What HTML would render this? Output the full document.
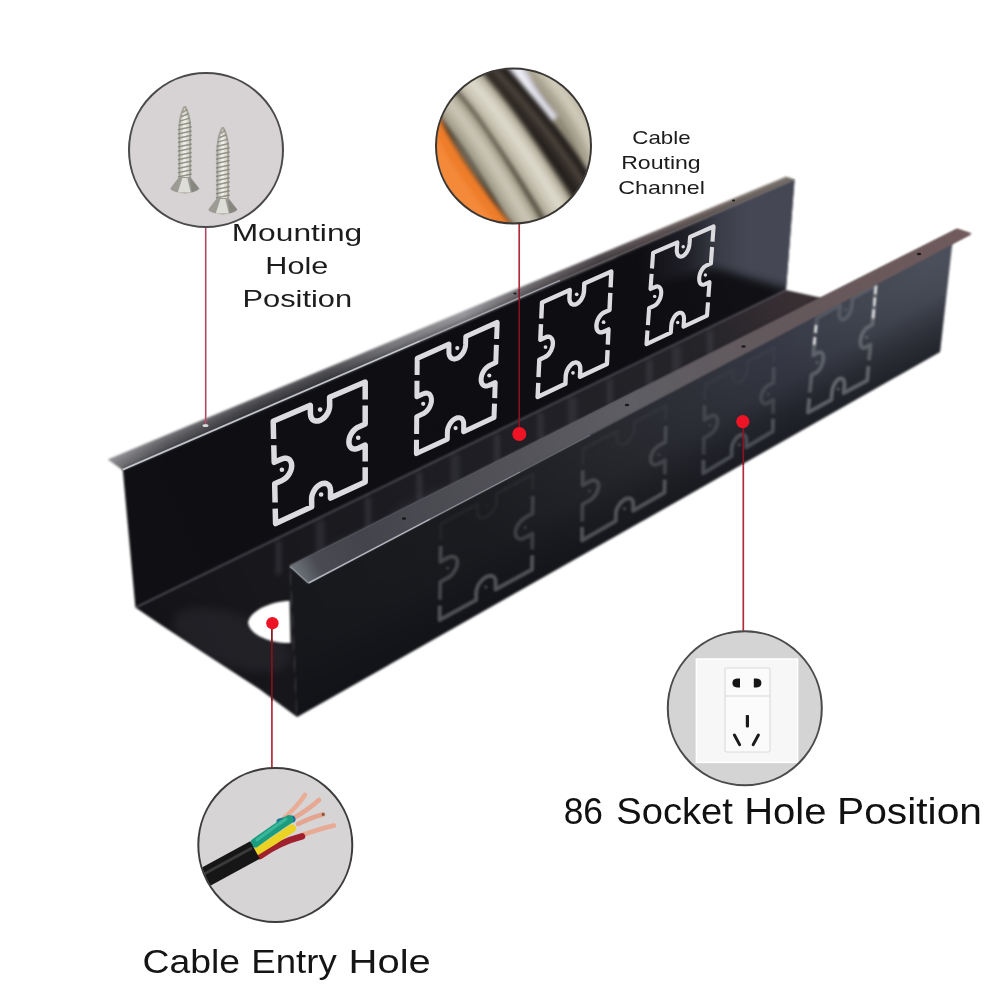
<!DOCTYPE html>
<html><head><meta charset="utf-8"><title>Cable tray</title>
<style>
html,body{margin:0;padding:0;background:#fff;}
body{width:1000px;height:1000px;overflow:hidden;font-family:"Liberation Sans",sans-serif;}
svg{display:block;}
</style></head><body>
<svg width="1000" height="1000" viewBox="0 0 1000 1000">
<defs>
<linearGradient id="gLF" gradientUnits="userSpaceOnUse" x1="108" y1="460" x2="790" y2="180">
 <stop offset="0" stop-color="#7c7c80"/><stop offset="0.08" stop-color="#58585d"/><stop offset="0.2" stop-color="#434348"/><stop offset="0.32" stop-color="#45454a"/>
 <stop offset="0.42" stop-color="#77777b"/><stop offset="0.52" stop-color="#96969a"/><stop offset="0.62" stop-color="#6a666a"/><stop offset="0.72" stop-color="#514b4f"/>
 <stop offset="0.78" stop-color="#62575a"/><stop offset="0.88" stop-color="#786d6a"/><stop offset="1" stop-color="#908880"/>
</linearGradient>
<linearGradient id="gLFx" gradientUnits="userSpaceOnUse" x1="440" y1="317.6" x2="445.6" y2="330.5">
 <stop offset="0" stop-color="#fff" stop-opacity="0.16"/><stop offset="0.45" stop-color="#fff" stop-opacity="0"/><stop offset="0.55" stop-color="#000" stop-opacity="0"/><stop offset="1" stop-color="#000" stop-opacity="0.3"/>
</linearGradient>
<linearGradient id="gLW" gradientUnits="userSpaceOnUse" x1="125" y1="540" x2="790" y2="235">
 <stop offset="0" stop-color="#101014"/><stop offset="0.75" stop-color="#0e0e12"/><stop offset="1" stop-color="#121217"/>
</linearGradient>
<linearGradient id="gSl" gradientUnits="userSpaceOnUse" x1="640" y1="0" x2="745" y2="0">
 <stop offset="0" stop-color="#454854" stop-opacity="0"/><stop offset="0.45" stop-color="#454854" stop-opacity="0.3"/><stop offset="0.75" stop-color="#454854" stop-opacity="0.8"/><stop offset="1" stop-color="#454854" stop-opacity="1"/>
</linearGradient>
<linearGradient id="gFL" gradientUnits="userSpaceOnUse" x1="140" y1="620" x2="800" y2="295">
 <stop offset="0" stop-color="#141418"/><stop offset="0.5" stop-color="#1e1e24"/><stop offset="0.85" stop-color="#242429"/><stop offset="1" stop-color="#3a3034"/>
</linearGradient>
<linearGradient id="gRW" gradientUnits="userSpaceOnUse" x1="295" y1="640" x2="945" y2="295">
 <stop offset="0" stop-color="#17181c"/><stop offset="0.3" stop-color="#1b1c20"/><stop offset="0.5" stop-color="#27282d"/><stop offset="0.76" stop-color="#363945"/><stop offset="0.9" stop-color="#444853"/><stop offset="1" stop-color="#4c505c"/>
</linearGradient>
<linearGradient id="gRWv" gradientUnits="userSpaceOnUse" x1="600" y1="415" x2="656" y2="514.5">
 <stop offset="0" stop-color="#101116" stop-opacity="0"/><stop offset="0.3" stop-color="#101116" stop-opacity="0.02"/><stop offset="0.53" stop-color="#101116" stop-opacity="0.11"/><stop offset="0.76" stop-color="#101116" stop-opacity="0.45"/><stop offset="1" stop-color="#101116" stop-opacity="0.7"/>
</linearGradient>
<linearGradient id="gRF" gradientUnits="userSpaceOnUse" x1="298" y1="575" x2="963" y2="232">
 <stop offset="0" stop-color="#6c7279"/><stop offset="0.03" stop-color="#4a4a52"/><stop offset="0.1" stop-color="#44444c"/><stop offset="0.3" stop-color="#515157"/><stop offset="0.5" stop-color="#5e5e64"/><stop offset="0.75" stop-color="#64585b"/><stop offset="1" stop-color="#705a5c"/>
</linearGradient>
<filter id="b2" color-interpolation-filters="sRGB"><feGaussianBlur stdDeviation="2"/></filter>
<filter id="b4" color-interpolation-filters="sRGB"><feGaussianBlur stdDeviation="4"/></filter>
<filter id="b05" color-interpolation-filters="sRGB"><feGaussianBlur stdDeviation="0.5"/></filter>
<filter id="b1" color-interpolation-filters="sRGB"><feGaussianBlur stdDeviation="0.9"/></filter>
<filter id="b08" color-interpolation-filters="sRGB"><feGaussianBlur stdDeviation="0.8"/></filter>
<clipPath id="cFloor"><polygon points="135.4,607.6 786.0,290.0 822.0,298.0 290.0,566.0 297.0,717.0 260.0,689.5 210.0,657.0 160.0,624.2"/></clipPath>
<clipPath id="cRW"><polygon points="290.0,568.0 955.0,232.0 952.0,246.5 940.0,352.0 297.0,717.0"/></clipPath>
<clipPath id="cLW"><polygon points="122.8,470.2 794.5,180.0 786.0,290.0 135.4,607.6"/></clipPath>
<clipPath id="c1"><circle cx="206" cy="150" r="76.5"/></clipPath>
<clipPath id="c2"><circle cx="513.5" cy="146" r="77"/></clipPath>
<clipPath id="c3"><circle cx="275.3" cy="845" r="76.5"/></clipPath>
<clipPath id="c4"><circle cx="744.8" cy="708.3" r="76.5"/></clipPath>
<linearGradient id="gRQ" gradientUnits="userSpaceOnUse" x1="0" y1="0" x2="0" y2="1">
 <stop offset="0" stop-color="#fff" stop-opacity="0.2"/><stop offset="1" stop-color="#fff" stop-opacity="1"/>
</linearGradient>
</defs>
<rect width="1000" height="1000" fill="#ffffff"/>
<g filter="url(#b1)">
<polygon points="107.8,459.4 786.0,176.5 794.5,179.5 122.8,470.2" fill="url(#gLF)"/>
<polygon points="107.8,459.4 786.0,176.5 794.5,179.5 122.8,470.2" fill="url(#gLFx)"/>
<polygon points="122.8,470.2 794.5,180.0 786.0,290.0 135.4,607.6" fill="url(#gLW)"/>
<g clip-path="url(#cLW)"><polygon points="636,240 800,170 800,292 716,268 640,286" fill="url(#gSl)" filter="url(#b4)"/></g>
<polygon points="135.4,607.6 786.0,290.0 822.0,298.0 290.0,566.0 297.0,717.0 260.0,689.5 210.0,657.0 160.0,624.2" fill="url(#gFL)"/>
<g clip-path="url(#cFloor)">
<g filter="url(#b4)" opacity="0.5">
<ellipse cx="350" cy="545" rx="40" ry="8" transform="rotate(-26 350 545)" fill="#34343a"/>
<ellipse cx="420" cy="505" rx="36" ry="8" transform="rotate(-26 420 505)" fill="#34343a"/>
<ellipse cx="500" cy="470" rx="34" ry="8" transform="rotate(-26 500 470)" fill="#34343a"/>
<ellipse cx="560" cy="440" rx="30" ry="8" transform="rotate(-26 560 440)" fill="#34343a"/>
<ellipse cx="640" cy="400" rx="28" ry="8" transform="rotate(-26 640 400)" fill="#34343a"/>
<ellipse cx="700" cy="372" rx="24" ry="8" transform="rotate(-26 700 372)" fill="#34343a"/>
<ellipse cx="760" cy="342" rx="22" ry="8" transform="rotate(-26 760 342)" fill="#34343a"/>
<ellipse cx="232" cy="640" rx="62" ry="26" transform="rotate(20 232 640)" fill="#2c2c32"/>
</g>
<g filter="url(#b2)" opacity="0.75">
<rect x="276.1" y="540.7" width="5" height="33.8" fill="#55555c" opacity="0.55"/>
<rect x="315.9" y="520.3" width="9" height="33.8" fill="#55555c" opacity="0.4"/>
<rect x="365.7" y="497.0" width="5" height="33.8" fill="#55555c" opacity="0.55"/>
<rect x="416.9" y="472.0" width="5" height="31.4" fill="#55555c" opacity="0.55"/>
<rect x="450.7" y="454.5" width="9" height="31.4" fill="#55555c" opacity="0.4"/>
<rect x="494.5" y="434.1" width="5" height="31.4" fill="#55555c" opacity="0.55"/>
<rect x="538.1" y="412.9" width="5" height="31.2" fill="#55555c" opacity="0.55"/>
<rect x="567.8" y="397.4" width="9" height="31.2" fill="#55555c" opacity="0.4"/>
<rect x="607.4" y="379.0" width="5" height="31.2" fill="#55555c" opacity="0.55"/>
<rect x="647.0" y="359.7" width="5" height="30.1" fill="#55555c" opacity="0.55"/>
<rect x="672.2" y="346.4" width="9" height="30.1" fill="#55555c" opacity="0.4"/>
<rect x="707.5" y="330.2" width="5" height="30.1" fill="#55555c" opacity="0.55"/>
</g>
<polygon points="560,432 822,298 822,310 600,424" fill="#2a2628" opacity="0.7" filter="url(#b2)"/>
</g>
<line x1="135.4" y1="607.6" x2="786" y2="290" stroke="#6b6b74" stroke-width="1.2" opacity="0.8"/>
<path d="M248,622.5 C250,611 270,601.5 289.5,600.8 L290.6,643 C270,643.5 249.5,635 248,622.5 Z" fill="#ffffff"/>
<polygon points="290.0,568.0 955.0,232.0 952.0,246.5 940.0,352.0 297.0,717.0" fill="url(#gRW)"/>
<polygon points="290.0,568.0 955.0,232.0 952.0,246.5 940.0,352.0 297.0,717.0" fill="url(#gRWv)"/>
<polygon points="290.0,566.0 957.0,229.0 971.5,233.8 308.5,583.0" fill="url(#gRF)"/>
</g>
<g filter="url(#b05)">
<line x1="122.8" y1="469.6" x2="420" y2="341" stroke="#c9ccd4" stroke-width="1.7" opacity="0.95"/>
<line x1="420" y1="341" x2="560" y2="280.4" stroke="#b4b6c0" stroke-width="1.5" opacity="0.8"/>
<line x1="560" y1="280.4" x2="794.5" y2="179.2" stroke="#6f6467" stroke-width="1.2" opacity="0.5"/>
</g>
<g filter="url(#b05)"><g fill="none" stroke="#dcdce0" stroke-width="5.5" stroke-linejoin="round" stroke-linecap="butt" opacity="1.0" >
<path d="M273.6,439.0 L273.2,421.2 L310.3,405.4 L310.4,413.7 L310.4,413.7 L310.7,416.0 L311.4,418.0 L312.6,419.6 L314.2,420.6 L316.0,421.1 L318.1,421.0 L320.2,420.4 L322.3,419.2 L324.4,417.5 L326.2,415.4 L327.7,413.1 L328.8,410.5 L329.5,407.9 L329.7,405.4 L329.6,397.2 L365.2,382.0 L365.2,399.4" opacity="1"/>
<path d="M365.2,405.5 L365.2,424.1 L358.1,427.2 L358.1,427.2 L356.1,428.4 L354.1,430.1 L352.4,432.1 L350.9,434.4 L349.8,436.9 L349.1,439.5 L348.9,441.9 L349.1,444.2 L349.8,446.1 L350.9,447.6 L352.4,448.6 L354.2,449.0 L356.1,448.9 L358.2,448.3 L365.2,445.1 L365.2,461.4" opacity="1"/>
<path d="M365.2,467.3 L365.2,482.0 L330.5,498.1 L330.5,490.2 L330.5,490.2 L330.2,488.0 L329.5,486.1 L328.3,484.7 L326.8,483.7 L325.0,483.3 L323.0,483.4 L320.9,484.1 L318.8,485.3 L316.8,487.0 L315.1,489.1 L313.6,491.5 L312.5,494.0 L311.8,496.5 L311.6,498.9 L311.7,506.8 L275.6,523.6 L275.2,508.6" opacity="1"/>
<path d="M275.1,502.5 L274.7,483.8 L282.1,480.4 L282.1,480.4 L284.3,479.2 L286.4,477.5 L288.2,475.4 L289.7,473.0 L290.8,470.5 L291.5,467.9 L291.7,465.4 L291.4,463.1 L290.6,461.2 L289.4,459.6 L287.8,458.6 L286.0,458.2 L283.9,458.3 L281.7,459.0 L274.2,462.3 L273.8,445.2" opacity="1"/>
<circle cx="320.1" cy="409.6" r="2.31" fill="#dcdce0" stroke="none" opacity="1"/>
<circle cx="358.2" cy="437.8" r="2.31" fill="#dcdce0" stroke="none" opacity="1"/>
<circle cx="321.1" cy="494.5" r="2.31" fill="#dcdce0" stroke="none" opacity="1"/>
<circle cx="281.9" cy="469.7" r="2.31" fill="#dcdce0" stroke="none" opacity="1"/>
</g></g>
<g filter="url(#b05)"><g fill="none" stroke="#dcdce0" stroke-width="5.0" stroke-linejoin="round" stroke-linecap="butt" opacity="1.0" >
<path d="M417.1,375.0 L417.2,358.4 L449.0,344.1 L448.9,351.9 L448.9,351.9 L449.0,354.1 L449.6,356.0 L450.6,357.5 L451.9,358.5 L453.4,359.0 L455.2,358.9 L457.1,358.4 L458.9,357.3 L460.7,355.7 L462.3,353.8 L463.7,351.6 L464.7,349.2 L465.4,346.7 L465.6,344.4 L465.8,336.5 L497.2,322.4 L496.6,339.0" opacity="1"/>
<path d="M496.4,344.8 L495.8,362.6 L489.6,365.5 L489.6,365.5 L487.8,366.6 L486.0,368.1 L484.4,370.0 L483.1,372.2 L482.0,374.5 L481.4,376.9 L481.1,379.2 L481.2,381.4 L481.8,383.2 L482.7,384.6 L483.9,385.6 L485.5,386.1 L487.2,386.0 L489.0,385.4 L495.2,382.6 L494.7,398.1" opacity="1"/>
<path d="M494.5,403.7 L494.0,417.6 L463.6,431.7 L463.7,424.3 L463.7,424.3 L463.6,422.2 L463.0,420.5 L462.1,419.1 L460.8,418.1 L459.3,417.7 L457.6,417.7 L455.8,418.3 L454.0,419.4 L452.2,420.9 L450.6,422.8 L449.3,425.0 L448.3,427.3 L447.6,429.6 L447.4,431.9 L447.3,439.3 L416.4,453.6 L416.5,439.7" opacity="1"/>
<path d="M416.6,434.1 L416.7,416.7 L423.1,413.8 L423.1,413.8 L424.9,412.7 L426.7,411.1 L428.3,409.2 L429.6,407.1 L430.6,404.7 L431.3,402.3 L431.5,400.0 L431.3,397.9 L430.7,396.0 L429.8,394.6 L428.5,393.6 L426.9,393.1 L425.1,393.2 L423.3,393.8 L416.9,396.7 L417.0,380.8" opacity="1"/>
<circle cx="457.3" cy="348.1" r="2.1" fill="#dcdce0" stroke="none" opacity="1"/>
<circle cx="489.3" cy="375.5" r="2.1" fill="#dcdce0" stroke="none" opacity="1"/>
<circle cx="455.6" cy="428.1" r="2.1" fill="#dcdce0" stroke="none" opacity="1"/>
<circle cx="423.2" cy="403.8" r="2.1" fill="#dcdce0" stroke="none" opacity="1"/>
</g></g>
<g filter="url(#b05)"><g fill="none" stroke="#dcdce0" stroke-width="4.4" stroke-linejoin="round" stroke-linecap="butt" opacity="1.0" >
<path d="M541.3,318.5 L542.0,302.4 L569.8,290.1 L569.4,297.6 L569.4,297.6 L569.5,299.7 L569.9,301.5 L570.7,303.0 L571.8,304.0 L573.1,304.6 L574.6,304.6 L576.3,304.1 L577.9,303.2 L579.5,301.7 L580.9,300.0 L582.1,297.9 L583.1,295.6 L583.7,293.3 L584.0,291.1 L584.3,283.6 L611.3,271.6 L610.6,287.3" opacity="1"/>
<path d="M610.3,292.9 L609.5,310.0 L604.0,312.5 L604.0,312.5 L602.5,313.4 L600.9,314.8 L599.5,316.6 L598.3,318.7 L597.3,320.9 L596.7,323.2 L596.4,325.5 L596.5,327.6 L596.9,329.4 L597.7,330.8 L598.8,331.8 L600.1,332.4 L601.5,332.4 L603.1,331.9 L608.5,329.4 L607.8,344.6" opacity="1"/>
<path d="M607.6,350.2 L606.9,364.0 L579.9,376.8 L580.3,369.4 L580.3,369.4 L580.2,367.3 L579.8,365.5 L579.0,364.0 L577.9,363.0 L576.6,362.5 L575.1,362.5 L573.5,363.0 L571.8,364.0 L570.3,365.5 L568.8,367.3 L567.6,369.4 L566.6,371.7 L566.0,374.0 L565.7,376.3 L565.4,383.8 L537.6,397.0 L538.3,382.8" opacity="1"/>
<path d="M538.5,377.2 L539.3,359.7 L545.0,357.0 L545.0,357.0 L546.7,356.0 L548.3,354.6 L549.7,352.7 L551.0,350.6 L551.9,348.3 L552.6,346.0 L552.9,343.7 L552.8,341.6 L552.3,339.8 L551.5,338.3 L550.4,337.3 L549.1,336.7 L547.6,336.7 L545.9,337.2 L540.3,339.8 L541.0,324.2" opacity="1"/>
<circle cx="576.7" cy="294.3" r="1.848" fill="#dcdce0" stroke="none" opacity="1"/>
<circle cx="603.6" cy="322.2" r="1.848" fill="#dcdce0" stroke="none" opacity="1"/>
<circle cx="573.0" cy="372.8" r="1.848" fill="#dcdce0" stroke="none" opacity="1"/>
<circle cx="545.5" cy="347.1" r="1.848" fill="#dcdce0" stroke="none" opacity="1"/>
</g></g>
<g filter="url(#b05)"><g fill="none" stroke="#dcdce0" stroke-width="4.1" stroke-linejoin="round" stroke-linecap="butt" opacity="1.0" >
<path d="M652.0,268.5 L653.1,252.9 L677.4,242.3 L676.8,249.6 L676.8,249.6 L676.8,251.6 L677.2,253.4 L677.8,254.9 L678.7,255.9 L679.8,256.5 L681.1,256.6 L682.5,256.3 L683.9,255.4 L685.3,254.1 L686.6,252.4 L687.7,250.5 L688.6,248.4 L689.2,246.2 L689.5,244.0 L690.1,236.8 L713.6,226.5 L712.5,241.7" opacity="1"/>
<path d="M712.1,247.0 L710.9,263.5 L706.1,265.7 L706.1,265.7 L704.7,266.5 L703.4,267.8 L702.1,269.5 L701.0,271.4 L700.1,273.5 L699.5,275.7 L699.2,277.9 L699.2,279.9 L699.5,281.7 L700.1,283.1 L701.0,284.2 L702.1,284.7 L703.4,284.8 L704.7,284.4 L709.5,282.2 L708.4,296.9" opacity="1"/>
<path d="M708.0,302.3 L707.0,315.6 L683.5,326.7 L684.0,319.5 L684.0,319.5 L684.0,317.5 L683.7,315.8 L683.0,314.3 L682.2,313.3 L681.0,312.7 L679.7,312.7 L678.3,313.1 L676.9,314.0 L675.5,315.3 L674.2,317.0 L673.1,319.0 L672.2,321.1 L671.6,323.3 L671.3,325.5 L670.8,332.7 L646.5,344.2 L647.5,330.5" opacity="1"/>
<path d="M647.9,325.1 L649.1,308.2 L654.1,305.9 L654.1,305.9 L655.5,305.0 L656.9,303.7 L658.2,302.0 L659.4,300.0 L660.3,297.9 L660.9,295.6 L661.2,293.4 L661.2,291.4 L660.9,289.6 L660.2,288.1 L659.3,287.1 L658.2,286.5 L656.9,286.4 L655.4,286.8 L650.5,289.0 L651.6,273.9" opacity="1"/>
<circle cx="683.2" cy="246.8" r="1.7219999999999998" fill="#dcdce0" stroke="none" opacity="1"/>
<circle cx="705.4" cy="275.0" r="1.7219999999999998" fill="#dcdce0" stroke="none" opacity="1"/>
<circle cx="677.7" cy="322.5" r="1.7219999999999998" fill="#dcdce0" stroke="none" opacity="1"/>
<circle cx="654.7" cy="296.4" r="1.7219999999999998" fill="#dcdce0" stroke="none" opacity="1"/>
</g></g>
<g clip-path="url(#cRW)" filter="url(#b08)">
<g fill="none" stroke="#a6aaae" stroke-width="4.0" stroke-linejoin="round" stroke-linecap="butt" opacity="0.4" >
<path d="M440.8,540.3 L441.0,524.0 L477.4,504.2 L477.3,511.9 L477.3,511.9 L477.5,514.0 L478.2,515.7 L479.3,517.0 L480.8,517.7 L482.6,517.9 L484.7,517.6 L486.8,516.6 L489.0,515.2 L491.0,513.4 L492.9,511.2 L494.4,508.8 L495.6,506.2 L496.3,503.7 L496.6,501.4 L496.7,493.7 L533.0,474.0 L532.8,490.2" opacity="0.15"/>
<path d="M532.8,495.9 L532.6,513.6 L525.2,517.6 L525.2,517.6 L523.1,519.0 L521.0,520.9 L519.2,523.0 L517.6,525.5 L516.5,528.0 L515.7,530.5 L515.4,532.9 L515.7,535.0 L516.4,536.7 L517.5,538.0 L519.0,538.8 L520.8,539.0 L522.9,538.6 L525.0,537.7 L532.4,533.7 L532.2,549.5" opacity="0.6"/>
<path d="M532.2,555.2 L532.0,569.6 L495.5,589.5 L495.6,581.8 L495.6,581.8 L495.4,579.7 L494.7,577.9 L493.6,576.7 L492.1,575.9 L490.3,575.7 L488.2,576.1 L486.1,577.0 L483.9,578.4 L481.8,580.3 L480.0,582.5 L478.4,584.9 L477.3,587.5 L476.5,590.0 L476.2,592.4 L476.1,600.1 L439.6,620.0 L439.8,605.5" opacity="1"/>
<path d="M439.9,599.8 L440.2,582.0 L447.5,578.0 L447.5,578.0 L449.7,576.5 L451.8,574.7 L453.6,572.5 L455.2,570.0 L456.4,567.5 L457.1,565.0 L457.4,562.6 L457.2,560.5 L456.5,558.7 L455.4,557.5 L453.8,556.7 L452.0,556.5 L450.0,556.9 L447.8,557.8 L440.4,561.8 L440.7,546.0" opacity="0.75"/>
<circle cx="486.9" cy="506.6" r="1.5" fill="#a6aaae" stroke="none" opacity="0.15"/>
<circle cx="525.1" cy="527.6" r="1.5" fill="#a6aaae" stroke="none" opacity="0.6"/>
<circle cx="485.9" cy="587.1" r="1.5" fill="#a6aaae" stroke="none" opacity="1"/>
<circle cx="447.7" cy="567.9" r="1.5" fill="#a6aaae" stroke="none" opacity="0.75"/>
</g>
<g fill="none" stroke="#a6aaae" stroke-width="4.0" stroke-linejoin="round" stroke-linecap="butt" opacity="0.38" >
<path d="M582.8,464.6 L583.0,449.0 L617.0,431.4 L616.9,438.6 L616.9,438.6 L617.1,440.6 L617.7,442.2 L618.7,443.5 L620.1,444.2 L621.7,444.5 L623.6,444.2 L625.5,443.4 L627.4,442.1 L629.3,440.5 L630.9,438.5 L632.3,436.3 L633.4,434.0 L634.0,431.7 L634.3,429.5 L634.4,422.4 L666.0,406.0 L665.7,420.8" opacity="0.15"/>
<path d="M665.7,426.0 L665.4,442.0 L659.1,445.5 L659.1,445.5 L657.3,446.7 L655.5,448.3 L653.9,450.3 L652.6,452.4 L651.5,454.7 L650.9,457.0 L650.6,459.2 L650.8,461.1 L651.4,462.7 L652.4,463.9 L653.7,464.6 L655.2,464.8 L657.0,464.5 L658.8,463.7 L665.1,460.2 L664.8,474.4" opacity="0.6"/>
<path d="M664.7,479.6 L664.5,492.5 L633.1,510.8 L633.2,503.8 L633.2,503.8 L633.0,501.8 L632.4,500.2 L631.4,499.1 L630.1,498.4 L628.4,498.2 L626.6,498.6 L624.7,499.4 L622.8,500.8 L620.9,502.5 L619.3,504.6 L617.9,506.8 L616.8,509.2 L616.1,511.5 L615.9,513.7 L615.8,520.9 L582.0,540.5 L582.1,526.9" opacity="1"/>
<path d="M582.2,521.4 L582.4,504.5 L589.4,500.6 L589.4,500.6 L591.4,499.3 L593.3,497.5 L595.1,495.4 L596.5,493.1 L597.6,490.7 L598.3,488.3 L598.6,486.1 L598.4,484.1 L597.7,482.4 L596.7,481.2 L595.3,480.5 L593.5,480.3 L591.6,480.6 L589.6,481.5 L582.6,485.3 L582.8,470.2" opacity="0.7"/>
<circle cx="625.6" cy="434.0" r="1.5" fill="#a6aaae" stroke="none" opacity="0.15"/>
<circle cx="659.0" cy="454.6" r="1.5" fill="#a6aaae" stroke="none" opacity="0.6"/>
<circle cx="624.6" cy="508.7" r="1.5" fill="#a6aaae" stroke="none" opacity="1"/>
<circle cx="589.5" cy="491.1" r="1.5" fill="#a6aaae" stroke="none" opacity="0.7"/>
</g>
<g fill="none" stroke="#a6aaae" stroke-width="4.0" stroke-linejoin="round" stroke-linecap="butt" opacity="0.32" >
<path d="M704.7,399.9 L705.0,385.0 L733.2,369.9 L733.0,376.7 L733.0,376.7 L733.2,378.6 L733.7,380.2 L734.5,381.5 L735.7,382.3 L737.0,382.6 L738.6,382.4 L740.2,381.7 L741.8,380.6 L743.3,379.1 L744.7,377.3 L745.9,375.3 L746.8,373.1 L747.3,371.0 L747.5,368.9 L747.6,362.1 L774.0,348.0 L773.8,362.1" opacity="0.15"/>
<path d="M773.7,367.0 L773.5,382.4 L768.2,385.4 L768.2,385.4 L766.7,386.4 L765.2,387.9 L763.9,389.7 L762.7,391.7 L761.9,393.9 L761.3,396.0 L761.1,398.1 L761.3,400.0 L761.8,401.5 L762.6,402.7 L763.7,403.5 L765.0,403.8 L766.4,403.6 L768.0,402.9 L773.3,399.9 L773.1,413.6" opacity="0.6"/>
<path d="M773.0,418.6 L772.8,431.2 L746.2,447.2 L746.3,440.4 L746.3,440.4 L746.2,438.5 L745.7,436.9 L744.9,435.7 L743.7,435.0 L742.4,434.7 L740.9,435.0 L739.2,435.7 L737.6,436.9 L736.0,438.5 L734.6,440.4 L733.4,442.5 L732.5,444.7 L732.0,447.0 L731.7,449.1 L731.6,456.1 L703.2,473.2 L703.5,459.9" opacity="1"/>
<path d="M703.6,454.6 L703.9,438.2 L709.8,434.8 L709.8,434.8 L711.4,433.6 L713.1,432.0 L714.5,430.1 L715.8,428.0 L716.7,425.7 L717.3,423.4 L717.5,421.3 L717.4,419.4 L716.8,417.7 L716.0,416.5 L714.8,415.7 L713.4,415.5 L711.8,415.7 L710.1,416.4 L704.3,419.7 L704.6,405.2" opacity="0.6"/>
<circle cx="740.3" cy="372.8" r="1.5" fill="#a6aaae" stroke="none" opacity="0.15"/>
<circle cx="768.1" cy="394.1" r="1.5" fill="#a6aaae" stroke="none" opacity="0.6"/>
<circle cx="739.1" cy="444.7" r="1.5" fill="#a6aaae" stroke="none" opacity="1"/>
<circle cx="709.9" cy="425.6" r="1.5" fill="#a6aaae" stroke="none" opacity="0.6"/>
</g>
<g fill="none" stroke="#a6aaae" stroke-width="4.0" stroke-linejoin="round" stroke-linecap="butt" opacity="0.45" >
<path d="M815.3,334.0 L816.8,318.0 L840.1,305.1 L839.4,312.7 L839.4,312.7 L839.3,314.8 L839.6,316.7 L840.1,318.1 L841.0,319.2 L842.0,319.7 L843.3,319.7 L844.6,319.2 L846.0,318.2 L847.4,316.7 L848.7,314.9 L849.9,312.8 L850.8,310.5 L851.4,308.1 L851.8,305.8 L852.5,298.2 L876.0,285.2 L874.5,301.4" opacity="0.5"/>
<path d="M874.0,307.1 L872.4,324.7 L867.6,327.3 L867.6,327.3 L866.2,328.3 L864.8,329.8 L863.5,331.6 L862.3,333.7 L861.4,336.0 L860.8,338.4 L860.4,340.7 L860.3,342.8 L860.6,344.7 L861.2,346.2 L862.0,347.2 L863.1,347.8 L864.4,347.8 L865.7,347.3 L870.5,344.7 L869.0,360.4" opacity="0.8"/>
<path d="M868.5,366.1 L867.2,380.4 L843.7,393.1 L844.4,385.5 L844.4,385.5 L844.4,383.4 L844.2,381.5 L843.6,380.0 L842.8,379.0 L841.7,378.4 L840.5,378.4 L839.1,378.9 L837.7,379.9 L836.3,381.4 L835.0,383.2 L833.9,385.3 L833.0,387.6 L832.3,389.9 L832.0,392.2 L831.3,399.8 L808.0,412.4 L809.3,398.2" opacity="1"/>
<path d="M809.8,392.6 L811.5,375.1 L816.2,372.5 L816.2,372.5 L817.6,371.5 L818.9,370.1 L820.2,368.3 L821.4,366.1 L822.3,363.9 L822.9,361.5 L823.3,359.2 L823.3,357.1 L823.1,355.2 L822.5,353.8 L821.7,352.7 L820.6,352.2 L819.4,352.2 L818.0,352.7 L813.3,355.3 L814.8,339.7" opacity="0.8"/>
<circle cx="845.6" cy="309.2" r="1.5" fill="#a6aaae" stroke="none" opacity="0.5"/>
<circle cx="866.7" cy="337.3" r="1.5" fill="#a6aaae" stroke="none" opacity="0.8"/>
<circle cx="838.2" cy="388.9" r="1.5" fill="#a6aaae" stroke="none" opacity="1"/>
<circle cx="817.1" cy="362.6" r="1.5" fill="#a6aaae" stroke="none" opacity="0.8"/>
</g>
<path d="M876,285.5 L873,319" stroke="#e6e6e6" stroke-width="2.6" stroke-dasharray="9 3" fill="none"/>
<path d="M816.2,325 L814,346" stroke="#e6e6e6" stroke-width="2.6" stroke-dasharray="8 4" fill="none"/>
</g>
<polygon points="290.0,566.0 957.0,229.0 971.5,233.8 308.5,583.0" fill="url(#gRF)" filter="url(#b08)"/>
<g filter="url(#b05)">
<line x1="308.5" y1="583" x2="430" y2="519.2" stroke="#b9bbc8" stroke-width="1.5" opacity="0.95"/>
<line x1="430" y1="519.2" x2="520" y2="472" stroke="#9c9fa8" stroke-width="1.4" opacity="0.8"/>
<line x1="520" y1="472" x2="590" y2="435.2" stroke="#7c7e86" stroke-width="1.3" opacity="0.6"/>
<line x1="290.3" y1="566.5" x2="308.5" y2="583" stroke="#8d9398" stroke-width="1.3"/>
<line x1="290" y1="566" x2="640" y2="389.3" stroke="#6a6a72" stroke-width="1" opacity="0.5"/>
</g>
<ellipse cx="205.5" cy="425.5" rx="3" ry="1.6" fill="#d8d8d8"/>
<ellipse cx="404" cy="518.6" rx="2.2" ry="1.3" fill="#1a1a1c"/>
<ellipse cx="627" cy="405" rx="2.2" ry="1.3" fill="#1a1a1c"/>
<ellipse cx="743.5" cy="346.5" rx="2.2" ry="1.3" fill="#1a1a1c"/>
<ellipse cx="919" cy="254" rx="2.2" ry="1.3" fill="#1a1a1c"/>
<ellipse cx="515" cy="293.5" rx="1.6" ry="1" fill="#1a1a1c"/>
<ellipse cx="733.5" cy="200.6" rx="1.6" ry="1" fill="#1a1a1c"/>
<g filter="url(#b05)">
<line x1="205.7" y1="226" x2="205.7" y2="424" stroke="#b04a62" stroke-width="1.6"/>
<line x1="519.2" y1="223" x2="519.2" y2="289" stroke="#b32a3a" stroke-width="1.7"/>
<line x1="519.2" y1="289" x2="519.2" y2="434" stroke="#8c1322" stroke-width="1.5"/>
<line x1="271.9" y1="623" x2="271.9" y2="701" stroke="#80131f" stroke-width="1.7"/>
<line x1="271.9" y1="701" x2="271.9" y2="769" stroke="#b32a3a" stroke-width="1.7"/>
<line x1="743.3" y1="422" x2="743.3" y2="465.5" stroke="#8c1322" stroke-width="1.7"/>
<line x1="743.3" y1="465.5" x2="743.3" y2="632" stroke="#b32a3a" stroke-width="1.7"/>
</g>
<circle cx="519.3" cy="434" r="7" fill="#ee1425" filter="url(#b05)"/>
<circle cx="272.4" cy="623.2" r="6.2" fill="#ee1425" filter="url(#b05)"/>
<circle cx="742.8" cy="421.6" r="6.6" fill="#ee1425" filter="url(#b05)"/>
<circle cx="206" cy="150" r="77" fill="#d7d3d4"/>
<g clip-path="url(#c1)" filter="url(#b05)">
<path d="M178.5,177 L178.5,126 Q179.0,114 183.60000000000002,106 L186.0,106 Q190.60000000000002,114 191.10000000000002,126 L191.10000000000002,177 Z" fill="#a5a59b"/>
<path d="M180.5,177 L180.5,126 Q181.0,115 184.8,108 Q188.60000000000002,115 189.10000000000002,126 L189.10000000000002,177 Z" fill="#d9d9d1"/>
<rect x="183.0" y="114" width="3.4" height="63" fill="#f4f4ee" opacity="0.75"/>
<line x1="182.6" y1="112.5" x2="187.0" y2="109.5" stroke="#85857b" stroke-width="1.5" opacity="0.85"/>
<line x1="181.3" y1="116.8" x2="188.3" y2="113.8" stroke="#85857b" stroke-width="1.5" opacity="0.85"/>
<line x1="179.9" y1="121.1" x2="189.7" y2="118.1" stroke="#85857b" stroke-width="1.5" opacity="0.85"/>
<line x1="178.6" y1="125.4" x2="191.0" y2="122.4" stroke="#85857b" stroke-width="1.5" opacity="0.85"/>
<line x1="177.9" y1="129.7" x2="191.7" y2="126.7" stroke="#85857b" stroke-width="1.5" opacity="0.85"/>
<line x1="177.9" y1="134.0" x2="191.7" y2="131.0" stroke="#85857b" stroke-width="1.5" opacity="0.85"/>
<line x1="177.9" y1="138.3" x2="191.7" y2="135.3" stroke="#85857b" stroke-width="1.5" opacity="0.85"/>
<line x1="177.9" y1="142.6" x2="191.7" y2="139.6" stroke="#85857b" stroke-width="1.5" opacity="0.85"/>
<line x1="177.9" y1="146.9" x2="191.7" y2="143.9" stroke="#85857b" stroke-width="1.5" opacity="0.85"/>
<line x1="177.9" y1="151.2" x2="191.7" y2="148.2" stroke="#85857b" stroke-width="1.5" opacity="0.85"/>
<line x1="177.9" y1="155.5" x2="191.7" y2="152.5" stroke="#85857b" stroke-width="1.5" opacity="0.85"/>
<line x1="177.9" y1="159.8" x2="191.7" y2="156.8" stroke="#85857b" stroke-width="1.5" opacity="0.85"/>
<line x1="177.9" y1="164.1" x2="191.7" y2="161.1" stroke="#85857b" stroke-width="1.5" opacity="0.85"/>
<line x1="177.9" y1="168.4" x2="191.7" y2="165.4" stroke="#85857b" stroke-width="1.5" opacity="0.85"/>
<line x1="177.9" y1="172.7" x2="191.7" y2="169.7" stroke="#85857b" stroke-width="1.5" opacity="0.85"/>
<line x1="177.9" y1="177.0" x2="191.7" y2="174.0" stroke="#85857b" stroke-width="1.5" opacity="0.85"/>
<path d="M179.0,177 L190.60000000000002,177 L199.3,188.5 Q198.3,192 184.8,193.5 Q171.3,192 170.3,188.5 Z" fill="#9c9c94"/>
<path d="M182.3,178 L187.3,178 L190.8,192.5 L177.8,192.5 Z" fill="#e6e6df" opacity="0.9"/>
<path d="M189.8,178 L199.3,188.5 L191.8,192.5 Z" fill="#7f7f77" opacity="0.7"/>
<path d="M216.5,198 L216.5,147 Q217.0,135 221.60000000000002,127 L224.0,127 Q228.60000000000002,135 229.10000000000002,147 L229.10000000000002,198 Z" fill="#a5a59b"/>
<path d="M218.5,198 L218.5,147 Q219.0,136 222.8,129 Q226.60000000000002,136 227.10000000000002,147 L227.10000000000002,198 Z" fill="#d9d9d1"/>
<rect x="221.0" y="135" width="3.4" height="63" fill="#f4f4ee" opacity="0.75"/>
<line x1="220.6" y1="133.5" x2="225.0" y2="130.5" stroke="#85857b" stroke-width="1.5" opacity="0.85"/>
<line x1="219.3" y1="137.8" x2="226.3" y2="134.8" stroke="#85857b" stroke-width="1.5" opacity="0.85"/>
<line x1="217.9" y1="142.1" x2="227.7" y2="139.1" stroke="#85857b" stroke-width="1.5" opacity="0.85"/>
<line x1="216.6" y1="146.4" x2="229.0" y2="143.4" stroke="#85857b" stroke-width="1.5" opacity="0.85"/>
<line x1="215.9" y1="150.7" x2="229.7" y2="147.7" stroke="#85857b" stroke-width="1.5" opacity="0.85"/>
<line x1="215.9" y1="155.0" x2="229.7" y2="152.0" stroke="#85857b" stroke-width="1.5" opacity="0.85"/>
<line x1="215.9" y1="159.3" x2="229.7" y2="156.3" stroke="#85857b" stroke-width="1.5" opacity="0.85"/>
<line x1="215.9" y1="163.6" x2="229.7" y2="160.6" stroke="#85857b" stroke-width="1.5" opacity="0.85"/>
<line x1="215.9" y1="167.9" x2="229.7" y2="164.9" stroke="#85857b" stroke-width="1.5" opacity="0.85"/>
<line x1="215.9" y1="172.2" x2="229.7" y2="169.2" stroke="#85857b" stroke-width="1.5" opacity="0.85"/>
<line x1="215.9" y1="176.5" x2="229.7" y2="173.5" stroke="#85857b" stroke-width="1.5" opacity="0.85"/>
<line x1="215.9" y1="180.8" x2="229.7" y2="177.8" stroke="#85857b" stroke-width="1.5" opacity="0.85"/>
<line x1="215.9" y1="185.1" x2="229.7" y2="182.1" stroke="#85857b" stroke-width="1.5" opacity="0.85"/>
<line x1="215.9" y1="189.4" x2="229.7" y2="186.4" stroke="#85857b" stroke-width="1.5" opacity="0.85"/>
<line x1="215.9" y1="193.7" x2="229.7" y2="190.7" stroke="#85857b" stroke-width="1.5" opacity="0.85"/>
<line x1="215.9" y1="198.0" x2="229.7" y2="195.0" stroke="#85857b" stroke-width="1.5" opacity="0.85"/>
<path d="M217.0,198 L228.60000000000002,198 L237.3,209.5 Q236.3,213 222.8,214.5 Q209.3,213 208.3,209.5 Z" fill="#9c9c94"/>
<path d="M220.3,199 L225.3,199 L228.8,213.5 L215.8,213.5 Z" fill="#e6e6df" opacity="0.9"/>
<path d="M227.8,199 L237.3,209.5 L229.8,213.5 Z" fill="#7f7f77" opacity="0.7"/>
</g>
<circle cx="206" cy="150" r="77" fill="none" stroke="#4a4a4c" stroke-width="2"/>
<g clip-path="url(#c2)">
<rect x="430" y="60" width="170" height="170" fill="#9a9482"/>
<g filter="url(#b2)">
<path d="M500.7,19.4 L506.0,24.8 L511.1,30.1 L516.1,35.4 L520.9,40.6 L525.7,45.7 L530.3,50.8 L534.7,55.9 L539.0,60.8 L543.2,65.8 L547.2,70.6 L551.1,75.4 L554.9,80.2 L558.5,84.8 L562.0,89.5 L565.3,94.0 L568.5,98.5 L571.6,103.0 L574.5,107.4 L577.3,111.7 L580.0,116.0 L582.5,120.2 L584.9,124.4 L587.2,128.5 L589.3,132.5 L591.2,136.5 L593.1,140.5 L594.8,144.3 L596.3,148.2 L597.8,151.9 L599.1,155.6 L600.2,159.3 L601.2,162.8 L602.1,166.4 L602.8,169.8 L603.4,173.2 L603.9,176.6 L604.2,179.9 L604.4,183.1 L604.5,186.3 L604.4,189.4" fill="none" stroke="#8e8876" stroke-width="46.0" stroke-linecap="butt" stroke-linejoin="round"/>
<path d="M500.7,19.4 L506.0,24.8 L511.1,30.1 L516.1,35.4 L520.9,40.6 L525.7,45.7 L530.3,50.8 L534.7,55.9 L539.0,60.8 L543.2,65.8 L547.2,70.6 L551.1,75.4 L554.9,80.2 L558.5,84.8 L562.0,89.5 L565.3,94.0 L568.5,98.5 L571.6,103.0 L574.5,107.4 L577.3,111.7 L580.0,116.0 L582.5,120.2 L584.9,124.4 L587.2,128.5 L589.3,132.5 L591.2,136.5 L593.1,140.5 L594.8,144.3 L596.3,148.2 L597.8,151.9 L599.1,155.6 L600.2,159.3 L601.2,162.8 L602.1,166.4 L602.8,169.8 L603.4,173.2 L603.9,176.6 L604.2,179.9 L604.4,183.1 L604.5,186.3 L604.4,189.4" fill="none" stroke="#a9a391" stroke-width="34.0" stroke-linecap="butt" stroke-linejoin="round"/>
<path d="M500.0,20.1 L505.2,25.5 L510.4,30.8 L515.4,36.1 L520.2,41.3 L524.9,46.4 L529.5,51.5 L533.9,56.5 L538.2,61.5 L542.4,66.4 L546.4,71.2 L550.3,76.0 L554.1,80.8 L557.7,85.4 L561.2,90.1 L564.5,94.6 L567.7,99.1 L570.8,103.6 L573.7,107.9 L576.5,112.3 L579.1,116.5 L581.7,120.7 L584.0,124.9 L586.3,129.0 L588.4,133.0 L590.3,137.0 L592.2,140.9 L593.9,144.7 L595.4,148.5 L596.8,152.3 L598.1,155.9 L599.3,159.5 L600.3,163.1 L601.1,166.6 L601.9,170.0 L602.5,173.4 L602.9,176.7 L603.2,180.0 L603.4,183.2 L603.5,186.3 L603.4,189.4" fill="none" stroke="#c2bcaa" stroke-width="18.0" stroke-linecap="butt" stroke-linejoin="round"/>
<path d="M499.3,20.8 L504.5,26.2 L509.7,31.5 L514.6,36.8 L519.5,42.0 L524.2,47.1 L528.8,52.2 L533.2,57.2 L537.5,62.1 L541.6,67.0 L545.7,71.9 L549.5,76.7 L553.3,81.4 L556.9,86.0 L560.4,90.7 L563.7,95.2 L566.9,99.7 L570.0,104.1 L572.9,108.5 L575.6,112.8 L578.3,117.0 L580.8,121.2 L583.2,125.4 L585.4,129.4 L587.5,133.4 L589.4,137.4 L591.3,141.3 L592.9,145.1 L594.5,148.9 L595.9,152.6 L597.2,156.2 L598.3,159.8 L599.3,163.4 L600.2,166.8 L600.9,170.2 L601.5,173.6 L601.9,176.8 L602.2,180.1 L602.4,183.2 L602.5,186.3 L602.4,189.3" fill="none" stroke="#cfcaba" stroke-width="6.0" stroke-linecap="butt" stroke-linejoin="round"/>
<path d="M511.5,56.2 L512.2,57.9 L513.0,59.7 L513.7,61.4 L514.5,63.2 L515.3,64.9 L516.1,66.6 L517.0,68.3 L517.8,70.0 L518.7,71.7 L519.5,73.4 L520.4,75.1 L521.3,76.8 L522.2,78.5 L523.1,80.2 L524.1,81.8 L525.0,83.5 L526.0,85.1 L527.0,86.7 L528.0,88.4 L529.0,90.0 L530.0,91.6 L531.1,93.2 L532.1,94.8 L533.2,96.4 L534.3,98.0 L535.4,99.6 L536.5,101.2 L537.6,102.7 L538.8,104.3 L539.9,105.8 L541.1,107.4 L542.3,108.9 L543.5,110.5 L544.7,112.0 L545.9,113.5 L547.2,115.0 L548.4,116.5 L549.7,118.0 L551.0,119.5 L552.3,121.0" fill="none" stroke="#d6d5e2" stroke-width="15.0" stroke-linecap="butt" stroke-linejoin="round"/>
<path d="M511.5,56.2 L512.2,57.9 L513.0,59.7 L513.7,61.4 L514.5,63.2 L515.3,64.9 L516.1,66.6 L517.0,68.3 L517.8,70.0 L518.7,71.7 L519.5,73.4 L520.4,75.1 L521.3,76.8 L522.2,78.5 L523.1,80.2 L524.1,81.8 L525.0,83.5 L526.0,85.1 L527.0,86.7 L528.0,88.4 L529.0,90.0 L530.0,91.6 L531.1,93.2 L532.1,94.8 L533.2,96.4 L534.3,98.0 L535.4,99.6 L536.5,101.2 L537.6,102.7 L538.8,104.3 L539.9,105.8 L541.1,107.4 L542.3,108.9 L543.5,110.5 L544.7,112.0 L545.9,113.5 L547.2,115.0 L548.4,116.5 L549.7,118.0 L551.0,119.5 L552.3,121.0" fill="none" stroke="#f0f0f6" stroke-width="6.0" stroke-linecap="butt" stroke-linejoin="round"/>
<path d="M453.9,30.1 L459.0,35.5 L464.1,40.8 L469.1,46.0 L474.0,51.3 L478.9,56.4 L483.6,61.6 L488.3,66.7 L492.9,71.8 L497.5,76.9 L501.9,81.9 L506.3,86.8 L510.6,91.8 L514.8,96.7 L518.9,101.6 L522.9,106.4 L526.9,111.2 L530.8,115.9 L534.6,120.7 L538.3,125.3 L542.0,130.0 L545.6,134.6 L549.1,139.2 L552.5,143.7 L555.8,148.2 L559.1,152.7 L562.2,157.1 L565.3,161.5 L568.4,165.9 L571.3,170.2 L574.2,174.5 L576.9,178.8 L579.6,183.0 L582.2,187.2 L584.8,191.3 L587.2,195.4 L589.6,199.5 L591.9,203.5 L594.2,207.5 L596.3,211.5 L598.4,215.4" fill="none" stroke="#231f1c" stroke-width="27.0" stroke-linecap="butt" stroke-linejoin="round"/>
<path d="M454.6,29.4 L459.7,34.8 L464.8,40.1 L469.8,45.3 L474.8,50.6 L479.6,55.8 L484.4,60.9 L489.1,66.1 L493.7,71.1 L498.2,76.2 L502.7,81.2 L507.0,86.2 L511.3,91.1 L515.5,96.0 L519.7,100.9 L523.7,105.7 L527.7,110.5 L531.6,115.3 L535.4,120.0 L539.1,124.7 L542.8,129.4 L546.4,134.0 L549.9,138.6 L553.3,143.1 L556.6,147.6 L559.9,152.1 L563.1,156.6 L566.2,161.0 L569.2,165.3 L572.1,169.7 L575.0,174.0 L577.8,178.2 L580.5,182.5 L583.1,186.6 L585.6,190.8 L588.1,194.9 L590.5,199.0 L592.8,203.0 L595.0,207.1 L597.2,211.0 L599.2,215.0" fill="none" stroke="#332d28" stroke-width="14.0" stroke-linecap="butt" stroke-linejoin="round"/>
<path d="M455.6,28.5 L460.7,33.8 L465.8,39.1 L470.8,44.4 L475.8,49.6 L480.6,54.8 L485.4,60.0 L490.1,65.1 L494.7,70.2 L499.2,75.3 L503.7,80.3 L508.1,85.3 L512.4,90.2 L516.6,95.1 L520.7,100.0 L524.8,104.8 L528.8,109.7 L532.7,114.4 L536.5,119.2 L540.2,123.9 L543.9,128.5 L547.5,133.2 L551.0,137.7 L554.4,142.3 L557.7,146.8 L561.0,151.3 L564.2,155.8 L567.3,160.2 L570.3,164.5 L573.3,168.9 L576.2,173.2 L578.9,177.5 L581.7,181.7 L584.3,185.9 L586.8,190.1 L589.3,194.2 L591.7,198.3 L594.0,202.4 L596.3,206.4 L598.4,210.4 L600.5,214.3" fill="none" stroke="#4a423a" stroke-width="4.8" stroke-linecap="butt" stroke-linejoin="round"/>
<path d="M447.9,61.9 L450.5,64.2 L453.2,66.6 L455.9,69.2 L458.7,71.9 L461.5,74.8 L464.4,77.8 L467.3,80.9 L470.3,84.2 L473.3,87.6 L476.4,91.2 L479.5,95.0 L482.7,98.8 L486.0,102.8 L489.2,107.0 L492.6,111.3 L496.0,115.8 L499.4,120.4 L502.9,125.1 L506.4,130.0 L510.0,135.0 L513.6,140.2 L517.3,145.5 L521.1,151.0 L524.9,156.6 L528.7,162.3 L532.6,168.2 L536.5,174.2 L540.5,180.4 L544.6,186.8 L548.7,193.2 L552.8,199.8 L557.0,206.6 L561.2,213.5 L565.5,220.6 L569.9,227.8 L574.3,235.1 L578.7,242.6 L583.2,250.2 L587.8,258.0 L592.4,265.9" fill="none" stroke="#6a6556" stroke-width="35.6" stroke-linecap="butt" stroke-linejoin="round"/>
<path d="M447.9,61.9 L450.5,64.2 L453.2,66.6 L455.9,69.2 L458.7,71.9 L461.5,74.8 L464.4,77.8 L467.3,80.9 L470.3,84.2 L473.3,87.6 L476.4,91.2 L479.5,95.0 L482.7,98.8 L486.0,102.8 L489.2,107.0 L492.6,111.3 L496.0,115.8 L499.4,120.4 L502.9,125.1 L506.4,130.0 L510.0,135.0 L513.6,140.2 L517.3,145.5 L521.1,151.0 L524.9,156.6 L528.7,162.3 L532.6,168.2 L536.5,174.2 L540.5,180.4 L544.6,186.8 L548.7,193.2 L552.8,199.8 L557.0,206.6 L561.2,213.5 L565.5,220.6 L569.9,227.8 L574.3,235.1 L578.7,242.6 L583.2,250.2 L587.8,258.0 L592.4,265.9" fill="none" stroke="#b9b4a2" stroke-width="30.0" stroke-linecap="butt" stroke-linejoin="round"/>
<path d="M448.6,61.0 L451.3,63.3 L454.0,65.7 L456.7,68.3 L459.5,71.0 L462.4,73.9 L465.3,76.9 L468.2,80.1 L471.2,83.4 L474.2,86.9 L477.3,90.4 L480.5,94.2 L483.6,98.1 L486.9,102.1 L490.2,106.3 L493.5,110.6 L496.9,115.0 L500.4,119.6 L503.8,124.4 L507.4,129.3 L511.0,134.3 L514.6,139.5 L518.3,144.8 L522.1,150.3 L525.9,155.9 L529.7,161.6 L533.6,167.5 L537.5,173.6 L541.5,179.8 L545.6,186.1 L549.7,192.6 L553.8,199.2 L558.0,206.0 L562.3,212.9 L566.6,219.9 L570.9,227.1 L575.3,234.5 L579.8,242.0 L584.3,249.6 L588.8,257.4 L593.4,265.3" fill="none" stroke="#cfcbbb" stroke-width="18.0" stroke-linecap="butt" stroke-linejoin="round"/>
<path d="M449.4,60.1 L452.1,62.4 L454.8,64.8 L457.6,67.4 L460.4,70.2 L463.2,73.1 L466.1,76.1 L469.1,79.3 L472.1,82.6 L475.1,86.1 L478.2,89.7 L481.4,93.4 L484.6,97.3 L487.8,101.3 L491.1,105.5 L494.5,109.8 L497.9,114.3 L501.3,118.9 L504.8,123.7 L508.4,128.6 L512.0,133.6 L515.6,138.8 L519.3,144.1 L523.0,149.6 L526.8,155.2 L530.7,161.0 L534.6,166.9 L538.5,172.9 L542.5,179.1 L546.6,185.5 L550.7,191.9 L554.8,198.6 L559.0,205.3 L563.3,212.3 L567.6,219.3 L571.9,226.5 L576.3,233.9 L580.8,241.4 L585.3,249.0 L589.8,256.8 L594.4,264.7" fill="none" stroke="#dbd8cb" stroke-width="7.2" stroke-linecap="butt" stroke-linejoin="round"/>
<path d="M434.1,92.0 L435.6,93.0 L437.3,94.2 L439.0,95.5 L440.8,97.1 L442.7,98.9 L444.7,100.9 L446.7,103.1 L448.9,105.4 L451.1,108.0 L453.4,110.7 L455.8,113.7 L458.3,116.8 L460.8,120.2 L463.5,123.7 L466.2,127.4 L469.0,131.4 L471.9,135.5 L474.8,139.8 L477.9,144.3 L481.0,149.0 L484.2,153.9 L487.5,159.0 L490.9,164.3 L494.3,169.8 L497.9,175.5 L501.5,181.3 L505.2,187.4 L509.0,193.7 L512.9,200.1 L516.8,206.8 L520.9,213.6 L525.0,220.7 L529.2,227.9 L533.5,235.4 L537.8,243.0 L542.3,250.8 L546.8,258.8 L551.4,267.0 L556.1,275.5 L560.9,284.1" fill="none" stroke="#4a4438" stroke-width="33.6" stroke-linecap="butt" stroke-linejoin="round"/>
<path d="M434.1,92.0 L435.6,93.0 L437.3,94.2 L439.0,95.5 L440.8,97.1 L442.7,98.9 L444.7,100.9 L446.7,103.1 L448.9,105.4 L451.1,108.0 L453.4,110.7 L455.8,113.7 L458.3,116.8 L460.8,120.2 L463.5,123.7 L466.2,127.4 L469.0,131.4 L471.9,135.5 L474.8,139.8 L477.9,144.3 L481.0,149.0 L484.2,153.9 L487.5,159.0 L490.9,164.3 L494.3,169.8 L497.9,175.5 L501.5,181.3 L505.2,187.4 L509.0,193.7 L512.9,200.1 L516.8,206.8 L520.9,213.6 L525.0,220.7 L529.2,227.9 L533.5,235.4 L537.8,243.0 L542.3,250.8 L546.8,258.8 L551.4,267.0 L556.1,275.5 L560.9,284.1" fill="none" stroke="#a7a28f" stroke-width="27.6" stroke-linecap="butt" stroke-linejoin="round"/>
<path d="M434.7,90.9 L436.3,92.0 L438.0,93.2 L439.8,94.6 L441.6,96.2 L443.5,98.0 L445.5,100.0 L447.6,102.2 L449.8,104.6 L452.0,107.2 L454.3,110.0 L456.7,112.9 L459.2,116.1 L461.8,119.4 L464.4,123.0 L467.2,126.7 L470.0,130.7 L472.8,134.8 L475.8,139.1 L478.9,143.6 L482.0,148.3 L485.2,153.2 L488.5,158.3 L491.9,163.6 L495.4,169.1 L498.9,174.8 L502.5,180.7 L506.2,186.8 L510.0,193.0 L513.9,199.5 L517.9,206.2 L521.9,213.0 L526.0,220.1 L530.2,227.3 L534.5,234.8 L538.9,242.4 L543.3,250.2 L547.8,258.2 L552.5,266.5 L557.2,274.9 L561.9,283.5" fill="none" stroke="#bdb8a6" stroke-width="16.0" stroke-linecap="butt" stroke-linejoin="round"/>
<path d="M435.1,90.2 L436.8,91.3 L438.5,92.6 L440.3,94.0 L442.2,95.6 L444.1,97.5 L446.1,99.5 L448.2,101.7 L450.4,104.1 L452.6,106.7 L455.0,109.5 L457.4,112.4 L459.9,115.6 L462.4,119.0 L465.1,122.5 L467.8,126.3 L470.6,130.2 L473.5,134.3 L476.5,138.7 L479.5,143.2 L482.7,147.9 L485.9,152.8 L489.2,157.9 L492.6,163.2 L496.0,168.7 L499.6,174.4 L503.2,180.3 L506.9,186.4 L510.7,192.6 L514.6,199.1 L518.5,205.8 L522.6,212.6 L526.7,219.7 L530.9,226.9 L535.2,234.4 L539.6,242.0 L544.0,249.8 L548.5,257.8 L553.2,266.1 L557.9,274.5 L562.6,283.1" fill="none" stroke="#c9c5b5" stroke-width="6.0" stroke-linecap="butt" stroke-linejoin="round"/>
<path d="M412.9,108.0 L414.0,110.9 L415.1,113.9 L416.3,117.0 L417.6,120.1 L419.0,123.3 L420.4,126.5 L422.0,129.8 L423.6,133.2 L425.3,136.6 L427.1,140.1 L429.0,143.6 L431.0,147.2 L433.1,150.9 L435.2,154.6 L437.5,158.3 L439.8,162.1 L442.2,166.0 L444.7,170.0 L447.3,173.9 L450.0,178.0 L452.8,182.1 L455.6,186.3 L458.6,190.5 L461.6,194.8 L464.7,199.1 L467.9,203.5 L471.2,208.0 L474.5,212.5 L478.0,217.1 L481.5,221.7 L485.2,226.4 L488.9,231.1 L492.7,235.9 L496.6,240.8 L500.6,245.7 L504.6,250.7 L508.8,255.7 L513.0,260.8 L517.3,266.0 L521.7,271.2" fill="none" stroke="#3a2a1c" stroke-width="46.0" stroke-linecap="butt" stroke-linejoin="round"/>
<path d="M412.9,108.0 L414.0,110.9 L415.1,113.9 L416.3,117.0 L417.6,120.1 L419.0,123.3 L420.4,126.5 L422.0,129.8 L423.6,133.2 L425.3,136.6 L427.1,140.1 L429.0,143.6 L431.0,147.2 L433.1,150.9 L435.2,154.6 L437.5,158.3 L439.8,162.1 L442.2,166.0 L444.7,170.0 L447.3,173.9 L450.0,178.0 L452.8,182.1 L455.6,186.3 L458.6,190.5 L461.6,194.8 L464.7,199.1 L467.9,203.5 L471.2,208.0 L474.5,212.5 L478.0,217.1 L481.5,221.7 L485.2,226.4 L488.9,231.1 L492.7,235.9 L496.6,240.8 L500.6,245.7 L504.6,250.7 L508.8,255.7 L513.0,260.8 L517.3,266.0 L521.7,271.2" fill="none" stroke="#ee7d2a" stroke-width="42.4" stroke-linecap="butt" stroke-linejoin="round"/>
<path d="M411.0,108.6 L412.1,111.6 L413.2,114.6 L414.4,117.7 L415.7,120.9 L417.1,124.1 L418.6,127.4 L420.2,130.7 L421.8,134.1 L423.5,137.5 L425.4,141.0 L427.3,144.6 L429.3,148.2 L431.4,151.9 L433.5,155.6 L435.8,159.4 L438.1,163.2 L440.5,167.1 L443.1,171.0 L445.7,175.0 L448.3,179.1 L451.1,183.2 L454.0,187.4 L456.9,191.6 L459.9,195.9 L463.1,200.3 L466.3,204.7 L469.6,209.2 L472.9,213.7 L476.4,218.3 L480.0,222.9 L483.6,227.6 L487.3,232.4 L491.1,237.2 L495.0,242.0 L499.0,247.0 L503.1,251.9 L507.2,257.0 L511.5,262.1 L515.8,267.2 L520.2,272.5" fill="none" stroke="#f4893a" stroke-width="24.0" stroke-linecap="butt" stroke-linejoin="round"/>
</g></g>
<circle cx="513.5" cy="146" r="77.5" fill="none" stroke="#3a3634" stroke-width="2"/>
<circle cx="275.3" cy="845" r="77" fill="#d6d4d5"/>
<g clip-path="url(#c3)" filter="url(#b05)">
<path d="M284.0,818.0 Q296.0,808.0 305.0,795.0" stroke="#e9ad96" stroke-width="4.6" stroke-linecap="round" fill="none"/>
<path d="M292.0,819.0 Q308.0,810.0 319.0,800.0" stroke="#e6a892" stroke-width="4.6" stroke-linecap="round" fill="none"/>
<path d="M298.0,824.0 Q312.0,817.0 323.0,814.4" stroke="#e4a48e" stroke-width="4.6" stroke-linecap="round" fill="none"/>
<path d="M302.0,835.0 Q320.0,829.0 334.0,825.6" stroke="#e8aa92" stroke-width="4.6" stroke-linecap="round" fill="none"/>
<circle cx="323.2" cy="814.4" r="1.6" fill="#8a5a40"/>
<line x1="280.0" y1="822.0" x2="292.0" y2="819.0" stroke="#1f6f9a" stroke-width="7" stroke-linecap="round"/>
<path d="M260.0,856.0 Q280.0,842.0 302.0,836.4" stroke="#a0202e" stroke-width="6.5" stroke-linecap="round" fill="none"/>
<path d="M257.0,851.0 Q274.0,841.0 292.0,828.4" stroke="#ead325" stroke-width="8" stroke-linecap="round" fill="none"/>
<path d="M255.0,843.0 Q270.0,832.0 289.0,819.6" stroke="#1c9c7e" stroke-width="9" stroke-linecap="round" fill="none"/>
<path d="M257.0,840.0 Q270.0,830.0 286.0,819.0" stroke="#39b79a" stroke-width="3" stroke-linecap="round" fill="none"/>
<line x1="200.0" y1="880.0" x2="255.0" y2="850.0" stroke="#161616" stroke-width="20" stroke-linecap="butt"/>
<line x1="204.0" y1="874.0" x2="252.0" y2="848.0" stroke="#3a3a3a" stroke-width="3" stroke-linecap="butt"/>
</g>
<circle cx="275.3" cy="845" r="77" fill="none" stroke="#3c3c3c" stroke-width="2"/>
<circle cx="744.8" cy="708.3" r="77" fill="#d5d4d5"/>
<g clip-path="url(#c4)" filter="url(#b05)">
<rect x="696.4" y="659" width="101.2" height="103.4" fill="#f7f7f7"/>
<rect x="696.4" y="659" width="101.2" height="103.4" fill="none" stroke="#ffffff" stroke-width="1.5"/>
<rect x="725" y="668" width="45" height="84" rx="1.5" fill="#fbfbfb" stroke="#dcdcdc" stroke-width="1.2"/>
<line x1="725" y1="696" x2="770" y2="696" stroke="#e2e2e2" stroke-width="1.3"/>
<path d="M740,678.6 L737,678.6 Q732.4,679 732.4,683 Q732.4,687.2 737,687.4 L740,687.4 Z" fill="#161616"/>
<path d="M753.8,678.6 L756.8,678.6 Q761.4,679 761.4,683 Q761.4,687.2 756.8,687.4 L753.8,687.4 Z" fill="#161616"/>
<rect x="745.8" y="715" width="3.2" height="12.4" rx="0.8" fill="#1a1a1a"/>
<line x1="734.4" y1="735" x2="739.6" y2="744.6" stroke="#1a1a1a" stroke-width="3" stroke-linecap="round"/>
<line x1="758.4" y1="735" x2="753.2" y2="744.6" stroke="#1a1a1a" stroke-width="3" stroke-linecap="round"/>
</g>
<circle cx="744.8" cy="708.3" r="77" fill="none" stroke="#4a4a4a" stroke-width="2"/>
<g font-family="'Liberation Sans', sans-serif" filter="url(#b05)">
<text x="231.66" y="241.2" font-size="24.5" textLength="130.57" lengthAdjust="spacingAndGlyphs" fill="#1c1c1c">Mounting</text>
<text x="265.35" y="274.2" font-size="24.5" textLength="62.87" lengthAdjust="spacingAndGlyphs" fill="#1c1c1c">Hole</text>
<text x="242.54" y="307.4" font-size="24.5" textLength="109.55" lengthAdjust="spacingAndGlyphs" fill="#1c1c1c">Position</text>
<text x="632.28" y="144.3" font-size="19" textLength="58.39" lengthAdjust="spacingAndGlyphs" fill="#1c1c1c">Cable</text>
<text x="621.15" y="168.8" font-size="19" textLength="79.59" lengthAdjust="spacingAndGlyphs" fill="#1c1c1c">Routing</text>
<text x="618.24" y="194" font-size="19" textLength="86.68" lengthAdjust="spacingAndGlyphs" fill="#1c1c1c">Channel</text>
<text x="563.71" y="824.2" font-size="36.5" textLength="39.28" lengthAdjust="spacingAndGlyphs" fill="#111">86</text>
<text x="616.28" y="824.2" font-size="36.5" textLength="116.59" lengthAdjust="spacingAndGlyphs" fill="#111">Socket</text>
<text x="744.20" y="824.2" font-size="36.5" textLength="82.27" lengthAdjust="spacingAndGlyphs" fill="#111">Hole</text>
<text x="837.04" y="824.2" font-size="36.5" textLength="144.92" lengthAdjust="spacingAndGlyphs" fill="#111">Position</text>
<text x="142.43" y="973.4" font-size="33.5" textLength="97.66" lengthAdjust="spacingAndGlyphs" fill="#151515">Cable</text>
<text x="251.37" y="973.4" font-size="33.5" textLength="85.39" lengthAdjust="spacingAndGlyphs" fill="#151515">Entry</text>
<text x="348.60" y="973.4" font-size="33.5" textLength="82.27" lengthAdjust="spacingAndGlyphs" fill="#151515">Hole</text>
</g>
</svg>
</body></html>
